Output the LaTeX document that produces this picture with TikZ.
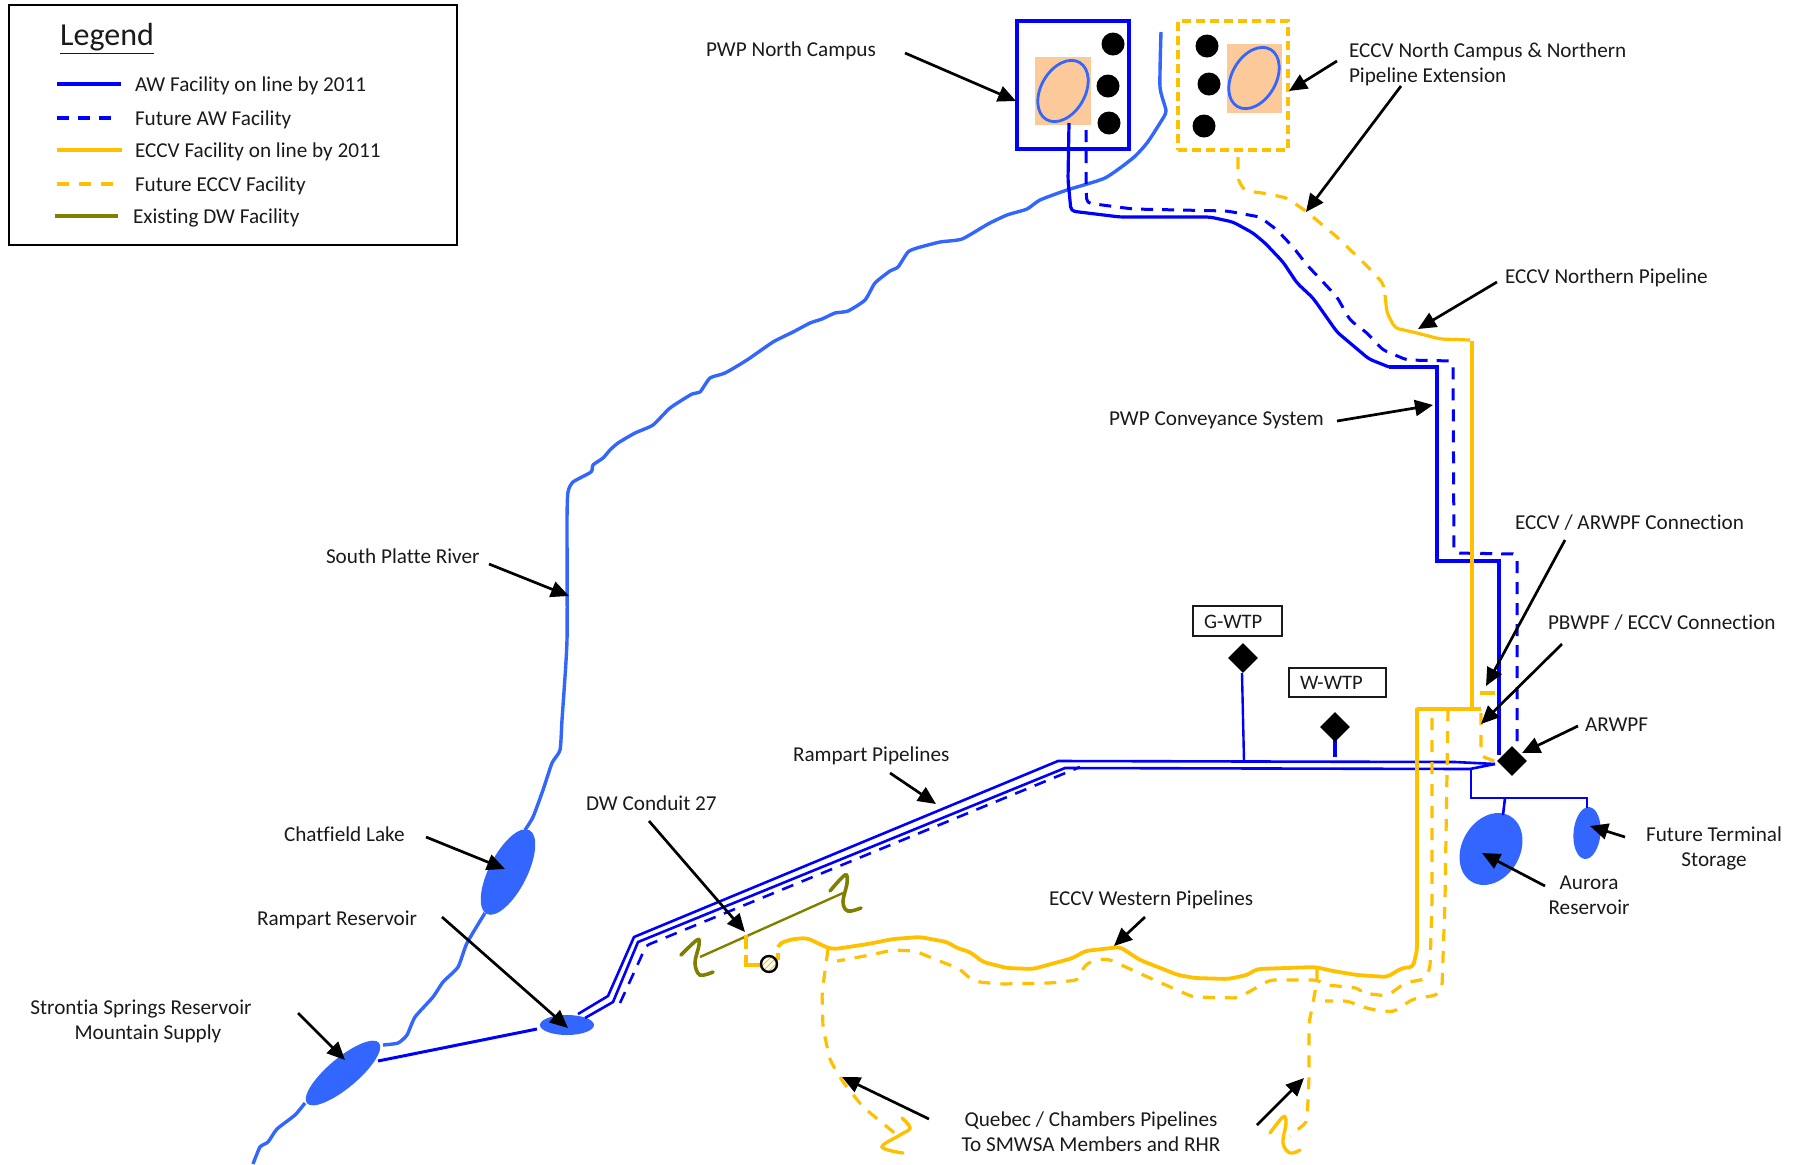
\documentclass[tikz,border=0pt]{standalone}
\usepackage{fontspec}
\setmainfont[Ligatures=NoCommon]{Carlito}
\usetikzlibrary{arrows.meta,shapes.geometric,patterns}
\definecolor{awblue}{HTML}{0000FF}
\definecolor{river}{HTML}{3366FF}
\definecolor{eccv}{HTML}{FFC000}
\definecolor{dwolive}{HTML}{808000}
\definecolor{pond}{HTML}{FCC99A}
\definecolor{ink}{HTML}{1A1A1A}
\tikzset{
  x=0.5pt,y=-0.5pt,
  every node/.style={text=ink},
  lbl/.style={font=\fontsize{10.6}{12.5}\selectfont,inner sep=0pt,outer sep=0pt},
  lblL/.style={lbl,anchor=west,align=left},
  lblC/.style={lbl,anchor=center,align=center},
  leader/.style={draw=black,line width=1.35pt,-{Triangle[length=9pt,width=8pt]}},
  aw/.style={draw=awblue,line width=1.6pt,line join=round,rounded corners=2pt},
  awthin/.style={draw=awblue,line width=1.3pt,line join=miter},
  awdash/.style={draw=awblue,line width=1.5pt,dash pattern=on 6pt off 4.5pt,line join=round,rounded corners=2pt},
  ec/.style={draw=eccv,line width=1.9pt,line join=round,rounded corners=2pt},
  ecdash/.style={draw=eccv,line width=1.6pt,dash pattern=on 6pt off 5pt,line join=round,rounded corners=2pt},
  ecsq/.style={draw=eccv,line width=1.7pt,line cap=round},
  dw/.style={draw=dwolive,line width=1.8pt,line cap=round},
  riv/.style={draw=river,line width=1.7pt,line join=round},
  lake/.style={ellipse,fill=river,inner sep=0pt,outer sep=0pt},
  pondring/.style={ellipse,draw=river,line width=1.4pt,inner sep=0pt,fill=none,rotate=60,minimum width=33pt,minimum height=22pt},
  pondrect/.style={fill=pond,draw=none},
  well/.style={circle,fill=black,inner sep=0pt,minimum size=11.5pt},
  wtp/.style={diamond,fill=black,inner sep=0pt,minimum width=15pt,minimum height=15pt},
  tagbox/.style={draw=ink,line width=1.3pt,fill=white,inner sep=0pt},
}
\begin{document}
\begin{tikzpicture}
\useasboundingbox (0,0) rectangle (1801,1164);

% ---------- legend
\node[draw=black,line width=1.3pt,inner sep=0pt,minimum width=224pt,minimum height=120pt] (legendbox) at (233,125) {};
\node[lbl,font=\fontsize{16}{18}\selectfont] (legendtitle) at (107,39) {\underline{Legend}};
\coordinate (k1a) at (57,84);  \coordinate (k1b) at (121,84);
\coordinate (k2a) at (57,118); \coordinate (k2b) at (119,118);
\coordinate (k3a) at (57,150); \coordinate (k3b) at (122,150);
\coordinate (k4a) at (57,184); \coordinate (k4b) at (119,184);
\coordinate (k5a) at (55,216); \coordinate (k5b) at (118,216);
\draw[aw,line width=1.8pt] (k1a) -- (k1b);
\draw[awdash,line width=1.7pt] (k2a) -- (k2b);
\draw[ec] (k3a) -- (k3b);
\draw[ecdash,line width=1.8pt] (k4a) -- (k4b);
\draw[draw=dwolive,line width=1.7pt] (k5a) -- (k5b);
\node[lblL] (t1) at (135,86)  {AW Facility on line by 2011};
\node[lblL] (t2) at (135,120) {Future AW Facility};
\node[lblL] (t3) at (135,152) {ECCV Facility on line by 2011};
\node[lblL] (t4) at (135,186) {Future ECCV Facility};
\node[lblL] (t5) at (133,218) {Existing DW Facility};

% ---------- river
\draw[riv] plot[smooth,tension=0.35] coordinates {(1161,32) (1160,87) (1166,111) (1160,123) (1147,143) (1133,158) (1105,178) (1067,190) (1040,200) (1027,209) (1007,215) (988,224) (962,239) (940,242) (917,248) (908,252) (898,267) (890,271) (875,283) (865,300) (848,311) (835,313) (822,319) (810,323) (793,332) (773,342) (747,360) (725,373) (710,378) (700,392) (692,394) (670,408) (653,425) (635,433) (618,443) (610,450) (603,458) (593,465) (591,472) (573,482) (568,492) (567,520) (567,640) (562,720) (560,750) (552,763) (543,790) (533,817) (525,830)};
\draw[riv] plot[smooth,tension=0.35] coordinates {(485,913) (467,943) (458,967) (443,982) (433,997) (415,1017) (407,1035) (398,1043) (383,1045)};
\draw[riv] plot[smooth,tension=0.35] coordinates {(305,1103) (295,1115) (277,1129) (268,1142) (260,1147) (253,1164)};

% ---------- lakes
\node[lake,rotate=63,minimum width=47pt,minimum height=19pt] (chatfield) at (508,872) {};
\node[lake,rotate=40,minimum width=47pt,minimum height=15pt] (strontia) at (343,1073) {};
\node[lake,minimum width=27pt,minimum height=10pt] (rampart) at (567,1025) {};
\node[lake,rotate=60,minimum width=38pt,minimum height=29pt] (aurora) at (1491,849) {};
\node[lake,rotate=85,minimum width=26pt,minimum height=13.5pt] (terminal) at (1587,833) {};

% ---------- campuses
\node[draw=awblue,line width=1.9pt,inner sep=0pt,minimum width=56pt,minimum height=64pt] (pwpbox) at (1073,85) {};
\node[pondrect,inner sep=0pt,minimum width=28pt,minimum height=34pt] (pwppond) at (1063,91) {};
\node[pondring] (pwpring) at (1063,91) {};
\node[well] (w1) at (1113,44) {};
\node[well] (w2) at (1108,86) {};
\node[well] (w3) at (1109,123) {};

\node[draw=eccv,line width=1.9pt,dash pattern=on 4.5pt off 2.5pt,inner sep=0pt,minimum width=55pt,minimum height=64.5pt] (eccvbox) at (1233,85.5) {};
\node[pondrect,inner sep=0pt,minimum width=27.5pt,minimum height=34.5pt] (eccvpond) at (1254.5,78.5) {};
\node[pondring] (eccvring) at (1254,78) {};
\node[well] (w4) at (1207,46) {};
\node[well] (w5) at (1209,84) {};
\node[well] (w6) at (1204,126) {};

% ---------- AW pipes
\draw[aw] (1069,123) -- (1068,180) -- (1071,211) -- (1120,217) -- (1210,217) -- (1233,222) -- (1253,233) -- (1265,243) -- (1283,262) -- (1297,283) -- (1313,298) -- (1337,332) -- (1350,343) -- (1369,359) -- (1389,367);
\draw[draw=awblue,line width=1.9pt,line join=miter] (1389,367) -- (1437,367) -- (1437,561) -- (1499,561) -- (1499,755);
\draw[awdash] (1086,130) -- (1086,190) -- (1087,203) -- (1133,209) -- (1227,211) -- (1260,217) -- (1277,230) -- (1293,247) -- (1307,265) -- (1323,282) -- (1337,297) -- (1350,320) -- (1367,333) -- (1383,350) -- (1407,360) -- (1453,361) -- (1454,553) -- (1517,554) -- (1517,748);

% Rampart pipelines
\draw[awthin] (578,1014) -- (608,996) -- (634,937) -- (1058,761) -- (1455,762) -- (1495,764);
\draw[awthin] (585,1018) -- (613,1002) -- (638,942) -- (1065,768) -- (1470,769) -- (1495,764);
\draw[awdash,line width=1.3pt] (620,1003) -- (642,955) -- (645,946) -- (1080,767);
\draw[draw=awblue,line width=1.2pt] (1242,673) -- (1244,761);
\draw[draw=awblue,line width=1.8pt] (1335,740) -- (1335,757);
\draw[draw=awblue,line width=1.3pt,line join=miter] (1471,769) -- (1471,798) -- (1587,798) -- (1587,808);
\draw[draw=awblue,line width=1.3pt] (1505,798) -- (1503,815);
\draw[draw=awblue,line width=1.5pt] (378,1061) -- (537,1029);

% ---------- DW conduit
\draw[draw=dwolive,line width=1.2pt] (700,957) -- (843,893);
\draw[dw] plot[smooth,tension=0.6] coordinates {(681,955) (697,940) (699,945) (695,963) (700,975) (713,972)};
\draw[dw] plot[smooth,tension=0.6] coordinates {(830,891) (845,875) (847,883) (843,902) (848,911) (861,908)};

% ---------- ECCV pipes
\draw[ecdash] (1238,157) -- (1238,180) -- (1245,191) -- (1263,193) -- (1287,198) -- (1307,212) -- (1337,237) -- (1368,267) -- (1377,277) -- (1383,283) -- (1385,295);
\draw[draw=eccv,line width=1.6pt,line join=round,rounded corners=2pt] (1385,295) -- (1387,313) -- (1395,328) -- (1417,333) -- (1440,339) -- (1470,340);
\draw[draw=eccv,line width=1.9pt] (1472,341) -- (1472,709);
\draw[draw=eccv,line width=1.9pt] (1481,709) -- (1417,709);
\draw[ec] (1417,708) -- (1417,950) -- (1413,967) -- (1402,968) -- (1387,977) -- (1357,975) -- (1333,971) -- (1315,967) -- (1257,969) -- (1247,975) -- (1228,979) -- (1195,978) -- (1178,975) -- (1140,960) -- (1120,947) -- (1085,951) -- (1073,958) -- (1033,969) -- (1007,968) -- (983,962) -- (970,952) -- (957,948) -- (947,942) -- (920,937) -- (893,939) -- (868,944) -- (835,949) -- (828,948) -- (807,938) -- (793,939) -- (780,943) -- (778,947);
\draw[draw=eccv,line width=1.6pt] (778,953) -- (778,960);
\draw[draw=eccv,line width=1.6pt] (746,935) -- (746,949);
\draw[draw=eccv,line width=1.6pt,line join=miter] (746,955) -- (746,965) -- (762,965);
\draw[ecdash] (1432,718) -- (1432,900) -- (1430,968) -- (1425,979) -- (1405,983) -- (1387,996) -- (1363,993) -- (1358,988) -- (1327,985) -- (1317,980) -- (1270,980) -- (1238,998) -- (1193,997) -- (1150,978) -- (1108,959) -- (1095,960) -- (1085,965) -- (1078,980) -- (1050,983) -- (1002,984) -- (978,982) -- (968,977) -- (960,969) -- (937,960) -- (915,951) -- (893,950) -- (870,955) -- (837,961);
\draw[ecdash] (1448,709) -- (1445,900) -- (1442,987) -- (1437,995) -- (1413,999) -- (1393,1012) -- (1370,1009) -- (1357,1005) -- (1348,1001) -- (1325,1001);
\draw[ecdash] (1317,968) -- (1317,980) -- (1313,1003) -- (1309,1023) -- (1309,1077) -- (1307,1122) -- (1290,1136);
\draw[ecsq] plot[smooth,tension=0.6] coordinates {(1270,1133) (1283,1117) (1286,1123) (1283,1143) (1290,1153) (1300,1150)};
\draw[ecdash] (828,949) -- (822,993) -- (823,1028) -- (830,1060) -- (837,1072) -- (843,1082) -- (863,1107) -- (897,1135);
\draw[ecsq] plot[smooth,tension=0.6] coordinates {(902,1118) (910,1128) (900,1135) (882,1147) (903,1153)};
\draw[draw=eccv,line width=2pt] (1480,693) -- (1495,693);
\draw[ecdash] (1481,713) -- (1481,756) -- (1497,762);

\node[circle,draw=black,line width=1.2pt,inner sep=0pt,minimum size=8pt,preaction={fill=white},pattern=north east lines,pattern color=eccv] (gauge) at (769,964) {};

% ---------- WTP
\node[wtp] (gwtp) at (1243,658) {};
\node[wtp] (wwtp) at (1335,727) {};
\node[wtp] (arwpf) at (1512,761) {};
\node[tagbox,minimum width=44.5pt,minimum height=15pt] (gbox) at (1237.5,621) {};
\node[tagbox,minimum width=48.5pt,minimum height=14.5pt] (wbox) at (1337.5,682.5) {};
\node[lblL,font=\fontsize{10.3}{12.5}\selectfont] (gtxt) at (1204,622) {G-WTP};
\node[lblL,font=\fontsize{10.3}{12.5}\selectfont] (wtxt) at (1300,683) {W-WTP};

% ---------- labels
\node[lblL] (l1) at (706,51) {PWP North Campus};
\node[lblL] (l2) at (1349,64) {ECCV North Campus \& Northern\\Pipeline Extension};
\node[lblL] (l3) at (1505,278) {ECCV Northern Pipeline};
\node[lblL] (l4) at (1109,420) {PWP Conveyance System};
\node[lblL] (l5) at (326,556) {South Platte River};
\node[lblL] (l6) at (1515,523) {ECCV / ARWPF Connection};
\node[lblL] (l7) at (1548,623) {PBWPF / ECCV Connection};
\node[lblL] (l8) at (1585,725) {ARWPF};
\node[lblC] (l9) at (1714,848) {Future Terminal\\Storage};
\node[lblC] (l10) at (1589,895) {Aurora\\Reservoir};
\node[lblL] (l11) at (793,756) {Rampart Pipelines};
\node[lblL] (l12) at (586,803) {DW Conduit 27};
\node[lblL] (l13) at (284,834) {Chatfield Lake};
\node[lblL] (l14) at (257,920) {Rampart Reservoir};
\node[lblC] (l15) at (141,1021) {Strontia Springs Reservoir\\\hspace*{7pt}Mountain Supply};
\node[lblL] (l16) at (1049,900) {ECCV Western Pipelines};
\node[lblC] (l17) at (1091,1132) {Quebec / Chambers Pipelines\\To SMWSA Members and RHR};

% ---------- leader arrows
\coordinate (a1) at (905,53);   \coordinate (b1) at (1016,101);
\coordinate (a2) at (1337,61);  \coordinate (b2) at (1289,91);
\coordinate (a3) at (1401,86);  \coordinate (b3) at (1306,212);
\coordinate (a4) at (1497,282); \coordinate (b4) at (1418,329);
\coordinate (a5) at (1337,421); \coordinate (b5) at (1433,405);
\coordinate (a6) at (489,564);  \coordinate (b6) at (569,596);
\coordinate (a7) at (426,837);  \coordinate (b7) at (505,869);
\coordinate (a8) at (442,917);  \coordinate (b8) at (568,1028);
\coordinate (a9) at (298,1013); \coordinate (b9) at (345,1060);
\coordinate (a10) at (649,821); \coordinate (b10) at (745,932);
\coordinate (a11) at (890,773); \coordinate (b11) at (936,804);
\coordinate (a12) at (1145,917);\coordinate (b12) at (1114,946);
\coordinate (a13) at (1565,540);\coordinate (b13) at (1486,686);
\coordinate (a14) at (1562,644);\coordinate (b14) at (1481,724);
\coordinate (a15) at (1578,726);\coordinate (b15) at (1522,753);
\coordinate (a16) at (1625,837);\coordinate (b16) at (1590,826);
\coordinate (a17) at (1545,886);\coordinate (b17) at (1482,853);
\coordinate (a18) at (1257,1125);\coordinate (b18) at (1304,1078);
\coordinate (a19) at (929,1119);\coordinate (b19) at (842,1077);
\foreach \i in {1,...,19} {\draw[leader] (a\i) -- (b\i);}
\end{tikzpicture}
\end{document}
